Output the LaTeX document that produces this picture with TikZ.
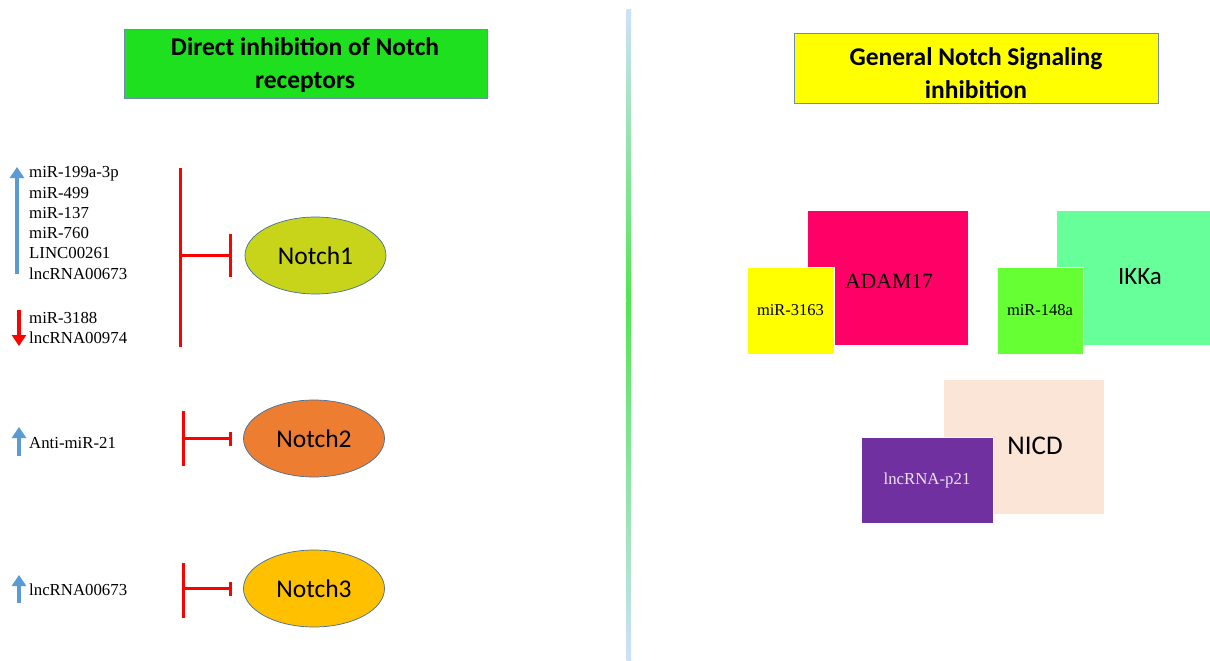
\documentclass[tikz,border=0pt]{standalone}
\usepackage{fontspec}
\setmainfont{Liberation Serif}
\newfontfamily\calfont{Carlito}
\usetikzlibrary{shapes.geometric,arrows.meta}
\definecolor{titlegreen}{RGB}{30,224,30}
\definecolor{titleyellow}{RGB}{255,255,0}
\definecolor{frameblue}{RGB}{110,140,175}
\definecolor{upblue}{RGB}{91,155,213}
\definecolor{inhred}{RGB}{255,0,0}
\definecolor{notchA}{RGB}{200,212,26}
\definecolor{notchB}{RGB}{237,125,49}
\definecolor{notchC}{RGB}{255,192,0}
\definecolor{ellborder}{RGB}{65,113,156}
\definecolor{adamcol}{RGB}{255,0,102}
\definecolor{ikkcol}{RGB}{102,255,153}
\definecolor{mirgreen}{RGB}{102,255,51}
\definecolor{nicdcol}{RGB}{251,229,214}
\definecolor{purplecol}{RGB}{112,48,160}
\definecolor{lavtext}{RGB}{235,225,245}
\definecolor{divblue}{RGB}{205,225,250}
\definecolor{divgreen}{RGB}{80,230,80}
\begin{document}
\begin{tikzpicture}[x=1pt,y=-1pt,
  titlebox/.style={draw=frameblue,line width=0.8pt,minimum width=362pt,minimum height=69pt,align=center,
    font=\calfont\bfseries\fontsize{25.5}{33}\selectfont,inner sep=0pt},
  notch/.style={ellipse,draw=ellborder,line width=0.7pt,minimum width=141pt,minimum height=77pt,
    font=\calfont\fontsize{25.5}{28}\selectfont,inner sep=0pt},
  lbl/.style={inner sep=0pt,font=\fontsize{16.8}{20.3}\selectfont,align=left,anchor=west},
  upar/.style={draw=upblue,line width=4pt,-{Triangle[width=14pt,length=11pt]},fill=upblue},
  downar/.style={draw=inhred,line width=4pt,-{Triangle[width=14pt,length=11pt]},fill=inhred},
  inhline/.style={draw=inhred,line width=3pt},
  bigbox/.style={inner sep=0pt},
  smallbox/.style={draw=white,line width=0.8pt,inner sep=0pt,font=\fontsize{16.5}{19}\selectfont}
]
\useasboundingbox (0,0) rectangle (1210,661);
\fill[white] (0,0) rectangle (1210,661);

% divider
\shade[top color=divblue,bottom color=divgreen] (626.5,10) rectangle (631,300);
\shade[top color=divgreen,bottom color=divblue] (626.5,300) rectangle (631,661);

% titles
\draw[draw=frameblue,line width=0.8pt,fill=titlegreen] (124,29) rectangle (487,98);
\draw[draw=frameblue,line width=0.8pt,fill=titleyellow] (794,33) rectangle (1158,103);
\node[inner sep=0pt,align=center,font=\calfont\bfseries\fontsize{25.5}{33}\selectfont] (t1) at (305,65.5) {Direct inhibition of Notch\\receptors};
\node[inner sep=0pt,align=center,font=\calfont\bfseries\fontsize{25.5}{33}\selectfont] (t2) at (976,73) {General Notch Signaling\\inhibition};

% Notch ellipses
\node[notch,fill=notchA] (n1) at (315.5,255.5) {Notch1};
\node[notch,fill=notchB] (n2) at (314,438.5) {Notch2};
\node[notch,fill=notchC] (n3) at (314,588.5) {Notch3};

% left labels
\node[lbl] (uplist) at (29,223) {miR-199a-3p\\miR-499\\miR-137\\miR-760\\LINC00261\\lncRNA00673};
\node[lbl] (downlist) at (29,328) {miR-3188\\lncRNA00974};
\node[lbl] (anti) at (29,443) {Anti-miR-21};
\node[lbl] (lnc3) at (29,590) {lncRNA00673};

% expression arrows
\coordinate (ua1) at (17,274); \coordinate (ua2) at (17,167);
\draw[upar] (ua1) -- (ua2);
\coordinate (da1) at (19,310); \coordinate (da2) at (19,346);
\draw[downar] (da1) -- (da2);
\coordinate (sa1) at (19,456); \coordinate (sa2) at (19,427);
\draw[upar] (sa1) -- (sa2);
\coordinate (sb1) at (19,603); \coordinate (sb2) at (19,575);
\draw[upar] (sb1) -- (sb2);

% inhibition lines
\coordinate (v1a) at (180,168); \coordinate (v1b) at (180,347); \coordinate (j1) at (180,255.5);
\draw[inhline] (v1a) -- (v1b);
\draw[inhline,-{Bar[width=43pt]},shorten >=13pt] (j1) -- (n1);
\coordinate (v2a) at (183,411); \coordinate (v2b) at (183,466); \coordinate (j2) at (183,438.5);
\draw[inhline] (v2a) -- (v2b);
\draw[inhline,-{Bar[width=14pt]},shorten >=11pt] (j2) -- (n2);
\coordinate (v3a) at (183,563); \coordinate (v3b) at (183,618); \coordinate (j3) at (183,588.5);
\draw[inhline] (v3a) -- (v3b);
\draw[inhline,-{Bar[width=14pt]},shorten >=11pt] (j3) -- (n3);

% right side boxes
\node[bigbox,fill=adamcol,minimum width=160pt,minimum height=134pt] (adam) at (888,278) {};
\node[inner sep=0pt,font=\fontsize{21.7}{24}\selectfont] (adamlbl) at (889,281) {ADAM17};
\node[smallbox,fill=titleyellow,minimum width=87pt,minimum height=87pt] (m3163) at (790.5,310.5) {miR-3163};

\node[bigbox,fill=ikkcol,minimum width=153pt,minimum height=134pt] (ikk) at (1133.5,278) {};
\node[inner sep=0pt,font=\calfont\fontsize{25}{28}\selectfont] (ikklbl) at (1140,277) {IKKa};
\node[smallbox,fill=mirgreen,minimum width=86pt,minimum height=87pt] (m148) at (1040,310.5) {miR-148a};

\node[bigbox,fill=nicdcol,minimum width=160pt,minimum height=134pt] (nicd) at (1024,447) {};
\node[inner sep=0pt,font=\calfont\fontsize{27}{30}\selectfont] (nicdlbl) at (1035,446) {NICD};
\node[smallbox,fill=purplecol,text=lavtext,minimum width=132pt,minimum height=86pt,font=\fontsize{16.8}{19}\selectfont] (p21) at (927,480) {lncRNA-p21};
\end{tikzpicture}
\end{document}
